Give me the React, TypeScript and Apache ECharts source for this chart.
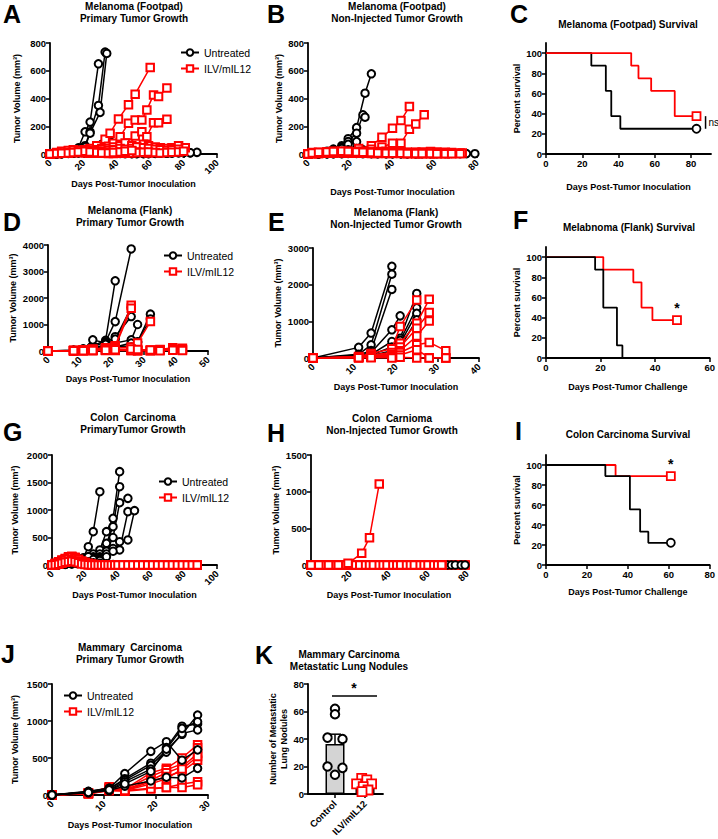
import React, { useEffect, useRef } from "react";
import * as echarts from "echarts";

type Pt = [number, number];

const FONT = "'Liberation Sans', Arial, Helvetica, sans-serif";
const RED = "#ff0000";
const BLACK = "#000000";

// ---------------- Panel A: Melanoma (Footpad) primary ----------------
const A_untreated: Pt[][] = [
  [[0,0],[4,5],[7,8],[11,12],[14,25],[17,45],[21,160],[24,230],[29,650]],
  [[0,0],[4,3],[7,6],[11,10],[14,15],[17,30],[21,60],[24,160],[29,350],[33,735]],
  [[0,0],[4,2],[7,5],[11,8],[14,12],[17,20],[21,50],[24,150],[30,300],[34,725]],
  [[0,0],[4,2],[7,4],[11,6],[14,10],[17,15],[21,20],[24,30],[28,60],[31,70],[36,90]],
  [[0,0],[4,2],[7,5],[11,8],[14,12],[17,20],[21,25],[24,20],[28,15],[31,20],[35,30],[38,25],[42,15]],
  [[0,0],[4,1],[7,3],[11,5],[14,8],[17,10],[21,15],[24,20],[28,25],[31,20],[35,18],[38,15],[42,12],[45,10],[49,10],[52,8]],
  [[0,0],[4,1],[7,2],[11,4],[14,5],[17,8],[21,10],[24,12],[28,15],[31,10],[35,8],[38,6],[42,5],[45,5],[49,4],[52,4],[56,3],[59,3],[63,4],[66,5],[70,5],[73,6],[77,8],[80,10],[84,8],[88,12]],
  [[0,0],[4,2],[7,3],[11,5],[14,8],[17,10],[21,12],[24,10],[28,8],[31,6],[35,5],[38,5],[42,4],[45,3],[49,3],[52,3],[56,4],[59,4],[63,5],[66,6],[70,8],[73,10],[77,12],[80,10],[84,9]],
];
const A_treated: Pt[][] = [
  [[0,0],[4,5],[7,10],[11,15],[14,20],[17,25],[21,30],[24,40],[28,60],[33,106],[36,150],[41,253],[47,355],[51,431],[60,624]],
  [[0,0],[4,3],[7,8],[11,12],[14,15],[17,20],[21,20],[24,25],[28,30],[31,40],[35,55],[38,77],[42,125],[47,222],[51,245],[55,245],[58,318],[62,426],[65,414],[70,475]],
  [[0,0],[4,3],[7,5],[11,8],[14,10],[17,12],[21,15],[24,15],[28,20],[31,25],[35,30],[38,35],[42,50],[47,80],[51,130],[55,160],[58,125],[62,226],[65,226],[70,250]],
  [[0,0],[4,5],[7,10],[11,15],[14,20],[17,25],[21,30],[24,25],[28,30],[31,35],[35,40],[38,50],[42,60],[45,80],[49,60],[52,50],[56,70],[59,60],[63,50],[66,45],[70,40],[73,45],[77,60],[81,45]],
  [[0,0],[4,8],[7,15],[11,20],[14,25],[17,20],[21,20],[24,25],[28,20],[31,20],[35,25],[38,30],[42,40],[45,35],[49,40],[52,50],[56,45],[59,40],[63,35],[66,30],[70,25],[73,30],[77,35]],
  [[0,0],[4,10],[7,20],[11,25],[14,30],[17,25],[21,20],[24,18],[28,15],[31,12],[35,10],[38,10],[42,12],[45,15],[49,20],[52,15],[56,10],[59,8]],
  [[0,0],[4,5],[7,8],[11,10],[14,12],[17,10],[21,8],[24,6],[28,5],[31,5],[35,4],[38,4],[42,5],[45,6],[49,8],[52,10],[56,12],[59,15],[63,10],[66,8],[70,10],[73,12],[77,15],[80,20]],
  [[0,0],[4,4],[7,6],[11,8],[14,10],[17,15],[21,20],[24,15],[28,10],[31,8],[35,8],[38,10],[42,15],[45,20],[49,25]],
];

// ---------------- Panel B: Melanoma (Footpad) non-injected ----------------
const B_untreated: Pt[][] = [
  [[0,0],[9,20],[12,35],[16,60],[19,110],[23,190],[27,438],[30,578]],
  [[0,0],[9,15],[12,30],[16,50],[19,90],[23,150],[26,282],[27,265]],
  [[0,0],[9,10],[12,20],[16,40],[19,70],[23,89]],
  [[0,0],[5,3],[9,8],[12,12],[16,20],[19,30],[23,40],[26,30],[30,20],[33,15]],
  [[0,0],[5,2],[9,3],[12,5],[16,6],[19,8],[23,10],[26,8],[30,6],[33,5],[37,5],[40,4],[44,4],[47,3],[51,3],[54,4],[58,5],[61,6],[65,5],[68,4],[72,3],[75,3],[79,2]],
  [[0,0],[5,1],[9,2],[12,3],[16,4],[19,5],[23,6],[26,5],[30,4],[33,3],[37,3],[40,3],[44,2],[47,2],[51,3],[54,4],[58,3],[61,4],[65,3]],
  [[0,0],[5,2],[9,4],[12,6],[16,8],[19,10],[23,12],[26,10],[30,8],[33,6],[37,5],[40,4],[44,4]],
  [[0,0],[5,1],[9,2],[12,2],[16,3],[19,4],[23,4],[26,3],[30,3],[33,2],[37,2],[40,2],[44,3],[47,3],[51,2],[54,2],[58,2],[61,2]],
];
const B_treated: Pt[][] = [
  [[0,0],[5,5],[9,8],[12,10],[16,15],[19,20],[24,40],[30,60],[35,120],[40,185],[44,241],[48,342]],
  [[0,0],[5,3],[9,5],[12,8],[16,10],[19,15],[24,20],[30,35],[35,50],[40,77],[44,77],[48,178],[51,217],[55,282]],
  [[0,0],[2,10],[5,8],[9,10],[12,12],[16,15],[19,12],[23,10],[26,12],[30,15],[33,18],[37,20],[40,15],[44,12],[47,10],[51,12],[54,15],[58,18],[61,15],[65,12],[68,10],[72,8],[73,8]],
  [[0,0],[2,5],[5,10],[9,15],[12,20],[16,18],[19,15],[23,12],[26,10],[30,8],[33,8],[37,10],[40,12],[44,10],[47,8],[51,6],[54,5],[58,5],[61,4],[65,4],[68,3]],
  [[0,0],[2,3],[5,5],[9,8],[12,10],[16,12],[19,10],[23,8],[26,6],[30,5],[33,5],[37,6],[40,8],[44,10],[47,12],[51,10],[54,8],[58,6],[61,5]],
  [[0,0],[2,2],[5,4],[9,6],[12,8],[16,10],[19,12],[23,15],[26,18],[30,15],[33,12],[37,10],[40,8],[44,6],[47,5],[51,4],[54,4],[58,3],[61,3],[65,3]],
  [[0,0],[2,4],[5,6],[9,8],[12,10],[16,8],[19,6],[23,5],[26,5],[30,4],[33,4],[37,3],[40,3],[44,3],[47,2],[51,2],[54,2],[58,2]],
  [[0,0],[2,8],[5,12],[9,15],[12,18],[16,20],[19,18],[23,15],[26,12],[30,10],[33,8],[37,6],[40,5],[44,5],[47,4],[51,4],[54,3],[58,3],[61,2],[65,2],[68,2],[72,2]],
];

// ---------------- Panel C: Footpad survival ----------------
const C_untreated: Pt[] = [[0,100],[25,87.5],[33,62.5],[36,37.5],[41,25],[83,25]];
const C_treated: Pt[] = [[0,100],[47,87.5],[51,75],[58,62.5],[71,37.5],[83,37.5]];

// ---------------- Panel D: Melanoma (Flank) primary ----------------
const D_untreated: Pt[][] = [
  [[0,0],[8,30],[11,80],[14,200],[18,400],[21,2650]],
  [[0,0],[8,30],[11,60],[14,150],[18,350],[21,1110],[26,3850]],
  [[0,0],[8,20],[11,50],[14,420],[18,300],[21,540],[26,1300]],
  [[0,0],[8,20],[11,50],[14,100],[18,200],[21,300],[26,420],[28,1000]],
  [[0,0],[8,10],[11,40],[14,80],[18,150],[21,200],[26,160],[28,350],[32,1390]],
  [[0,0],[8,10],[11,30],[14,60],[18,100],[21,150],[26,300],[28,330],[32,1210]],
  [[0,0],[8,15],[11,40],[14,100],[18,250],[21,450],[26,1640]],
  [[0,0],[8,10],[11,30],[14,50],[18,120],[21,200],[26,150]],
];
const D_treated: Pt[][] = [
  [[0,0],[8,20],[11,50],[14,80],[18,120],[21,200],[26,1730]],
  [[0,0],[8,20],[11,40],[14,60],[18,100],[21,150],[26,1610]],
  [[0,0],[8,15],[11,30],[14,50],[18,80],[21,100],[26,150],[28,300],[32,1110]],
  [[0,0],[8,10],[11,20],[14,30],[18,40],[21,50],[26,40],[28,30],[32,20],[35,40],[39,60],[42,50]],
  [[0,0],[8,10],[11,15],[14,20],[18,30],[21,40],[26,50],[28,40],[32,30],[35,60],[39,120],[42,100]],
  [[0,0],[8,15],[11,25],[14,30],[18,40],[21,30],[26,20],[28,10],[32,20],[35,50],[39,80],[42,60]],
  [[0,0],[8,5],[11,10],[14,15],[18,20],[21,20],[26,15],[28,10],[32,5],[35,10],[39,30],[42,20]],
  [[0,0],[8,5],[11,10],[14,20],[18,30],[21,50],[26,80],[28,60],[32,40]],
];

// ---------------- Panel E: Melanoma (Flank) non-injected ----------------
const E_untreated: Pt[][] = [
  [[0,0],[11,290],[14,680],[19,2500]],
  [[0,0],[11,100],[14,360],[19,2285]],
  [[0,0],[11,80],[14,200],[19,1870]],
  [[0,0],[11,60],[14,150],[19,770],[21,1150]],
  [[0,0],[11,50],[14,100],[19,450],[21,540],[25,1760]],
  [[0,0],[11,40],[14,80],[19,300],[21,480],[25,1370]],
  [[0,0],[11,30],[14,60],[19,200],[21,400],[25,1220]],
  [[0,0],[11,20],[14,50],[19,100],[21,300],[25,1040]],
];
const E_treated: Pt[][] = [
  [[0,0],[11,40],[14,120],[19,250],[21,860],[25,1580]],
  [[0,0],[11,30],[14,80],[19,150],[21,400],[25,950],[28,1600]],
  [[0,0],[11,20],[14,60],[19,100],[21,300],[25,810],[28,1240]],
  [[0,0],[11,20],[14,50],[19,80],[21,200],[25,600],[28,1010]],
  [[0,0],[11,10],[14,30],[19,50],[21,150],[25,360],[28,425],[32,200]],
  [[0,0],[11,10],[14,20],[19,30],[21,80],[25,225],[28,10],[32,0]],
  [[0,0],[11,5],[14,10],[19,0],[21,20],[25,0],[28,0],[32,0]],
];

// ---------------- Panel F: Flank survival ----------------
const F_untreated: Pt[] = [[0,100],[18,87.5],[21,50],[26,12.5],[28,0]];
const F_treated: Pt[] = [[0,100],[21,87.5],[32,75],[35,50],[39,37.5],[48,37.5]];

// ---------------- Panel G: Colon carcinoma primary ----------------
const G_untreated: Pt[][] = [
  [[0,0],[4,20],[8,40],[12,70],[15,90],[19,130],[22,333],[25,606],[29,1333]],
  [[0,0],[4,10],[8,30],[12,50],[15,80],[19,120],[22,150],[25,200],[29,273],[33,606],[37,848],[41,1697]],
  [[0,0],[4,10],[8,20],[12,40],[15,60],[19,100],[22,120],[25,150],[29,200],[33,394],[37,697],[41,1424]],
  [[0,0],[4,10],[8,20],[12,30],[15,50],[19,80],[22,100],[25,120],[29,150],[33,250],[37,500],[41,1133],[46,1212]],
  [[0,0],[4,5],[8,15],[12,25],[15,40],[19,60],[22,80],[25,100],[29,120],[33,200],[37,300],[41,273],[46,970]],
  [[0,0],[4,5],[8,10],[12,20],[15,30],[19,50],[22,60],[25,80],[29,100],[33,150],[37,250],[41,424],[46,455],[50,988]],
  [[0,0],[4,10],[8,30],[12,60],[15,80],[19,100],[22,150],[25,100],[29,80]],
  [[0,0],[4,5],[8,15],[12,30],[15,40],[19,50],[22,60],[25,40],[29,30],[33,20],[37,10],[41,5],[46,0],[50,0],[54,0],[58,0],[62,0],[66,0],[70,0],[74,0],[77,0],[80,0]],
  [[0,0],[4,8],[8,20],[12,35],[15,45],[19,40],[22,30],[25,20],[29,10],[33,5],[37,0],[41,0],[46,0],[50,0],[54,0],[58,0],[62,0],[66,0],[70,0],[74,0],[77,0]],
];
const G_treatedDays: number[] = [0,2,4,6,8,10,12,14,16,18,20,22,24,26,28,30,32,34,36,38,40,43,46,49,52,55,58,61,64,67,70,73,76,79,82,85,88];
const G_treatedVols: number[][] = [
  [0,20,50,80,120,150,160,130,90,60,40,20,10,5,0,0,0,0,0,0,0,0,0,0,0,0,0,0,0,0,0,0,0,0,0,0,0],
  [0,30,60,90,100,120,140,110,80,50,30,15,5,0,0,0,0,0,0,0,0,0,0,0,0,0,0,0,0,0,0,0,0,0,0,0,0],
  [0,10,30,60,90,110,100,80,60,40,20,10,5,0,0,0,0,0,0,0,0,0,0,0,0,0,0,0,0,0,0,0,0,0,0],
  [0,15,40,70,100,130,150,140,100,70,50,30,20,10,5,0,0,0,0,0,0,0,0,0,0,0,0,0,0,0,0,0,0,0,0,0,0],
  [0,5,20,40,60,80,90,70,50,30,20,10,0,0,0,0,0,0,0,0,0,0,0,0,0,0,0,0,0,0,0,0,0,0],
  [0,10,25,50,70,90,110,120,100,70,40,20,10,0,0,0,0,0,0,0,0,0,0,0,0,0,0,0,0,0,0,0,0,0,0,0],
  [0,20,40,60,80,100,90,70,50,30,20,10,5,0,0,0,0,0,0,0,0,0,0,0,0,0,0,0,0,0,0,0,0,0,0,0,0],
  [0,5,15,30,50,60,70,60,40,20,10,5,0,0,0,0,0,0,0,0,0,0,0,0,0,0,0,0,0,0,0,0,0,0,0,0,0],
];

// ---------------- Panel H: Colon carcinoma non-injected ----------------
const H_days: number[] = [0,2,4,7,9,11,14,16,18,21,23,25,28,30,32,35,37,39,42,44,46,49,51,53,56,58,60,63,65,67];
const H_lateDays: number[] = [70,72,74,77,79];
const H_untreatedVols: number[] = [0,0,0,0,0,0,0,0,0,0,0,0,0,0,0,0,0,0,0,0,0,0,0,0,0,0,0,0,0,0];
const H_untreatedLateVols: number[] = [0,0,0,0,0];
const H_treatedGrowing: Pt[] = [[0,0],[4,0],[9,0],[14,0],[19,23],[26,159],[30,373],[35,1105]];
const H_treatedVols: number[][] = [
  [0,0,0,0,0,0,0,0,0,0,0,0,0,0,0,0,0,0,0,0,0,0,0,0,0,0,0,0,0,0],
  [0,0,0,0,0,0,0,0,0,0,0,0,0,0,0,0,0,0,0,0,0,0,0,0,0,0,0,0,0,0],
  [0,0,0,0,0,0,0,0,0,0,0,0,0,0,0,0,0,0,0,0,0,0,0,0,0,0,0,0,0],
  [0,0,0,0,0,0,0,0,0,0,0,0,0,0,0,0,0,0,0,0,0,0,0,0,0,0,0,0,0,0],
  [0,0,0,0,0,0,0,0,0,0,0,0,0,0,0,0,0,0,0,0,0,0,0,0,0,0,0,0],
  [0,0,0,0,0,0,0,0,0,0,0,0,0,0,0,0,0,0,0,0,0,0,0,0,0,0,0,0,0,0],
  [0,0,0,0,0,0,0,0,0,0,0,0,0,0,0,0,0,0,0,0,0,0,0,0,0,0,0,0,0,0],
];
const H_treatedLateVols: number[][] = [[0,0,0,0,0],[0,0,0,0,0]];

// ---------------- Panel I: Colon survival ----------------
const I_untreated: Pt[] = [[0,100],[29,88.9],[41,55.6],[46,33.3],[50,22.2],[61,22.2]];
const I_treated: Pt[] = [[0,100],[34,88.9],[61,88.9]];

// ---------------- Panel J: Mammary carcinoma primary ----------------
const J_days: number[] = [0,7,11,14,19,22,25,28];
const J_untreatedVols: number[][] = [
  [0,50,90,290,590,720,470,610],
  [0,40,80,220,430,640,930,960],
  [0,45,90,200,400,600,820,1080],
  [0,40,70,180,350,580,830,880],
  [0,30,60,120,190,240,230,360],
  [0,35,70,150,320,620,900,990],
];
const J_treatedVols: number[][] = [
  [0,30,100,80,300,360,500,680],
  [0,25,90,80,250,340,420,640],
  [0,20,110,70,200,300,380,560],
  [0,25,80,60,180,250,320,470],
  [0,20,70,60,90,100,150,180],
  [0,20,60,50,80,100,100,140],
  [0,15,60,60,150,220,350,520],
];

// ---------------- Panel K: Metastatic lung nodules ----------------
const K_categories: string[] = ["Control", "ILV/mIL12"];
const K_means: number[] = [36.3, 6.6];
const K_errTop: number[] = [43.5, 8.6];
const K_control: Pt[] = [[0,62],[0,58],[-0.25,41],[0.25,40],[-0.25,20],[0.25,19],[0,14]];
const K_ilv: Pt[] = [[0.89,11.4],[1.06,10.2],[0.72,7.3],[1.22,7.3],[0.94,5.3],[1.1,2.9],[0.9,1.7]];

// ---------------- helpers ----------------
const zip = (days: number[], vals: number[]): Pt[] =>
  vals.filter((_, i) => i < days.length).map((v, i) => [days[i], v] as Pt);

const LBL = { color: BLACK, fontSize: 9.5, fontWeight: "bold", fontFamily: FONT };
const NAME = { color: BLACK, fontSize: 9, fontWeight: "bold", fontFamily: FONT };

function valAxis(gridIndex: number, o: any) {
  const ticks = o.custom ? { customValues: o.custom } : {};
  return {
    type: "value",
    gridIndex,
    min: o.min,
    max: o.max,
    interval: o.interval,
    name: o.name,
    nameLocation: "middle",
    nameGap: o.gap,
    nameTextStyle: { ...NAME, lineHeight: 11 },
    axisLine: { show: true, onZero: false, lineStyle: { color: BLACK, width: 1.8 } },
    axisTick: { show: true, length: 4, lineStyle: { color: BLACK, width: 1.5 }, ...ticks },
    axisLabel: {
      ...LBL,
      rotate: o.rotate || 0,
      margin: o.margin ?? 4,
      formatter: o.formatter || ((v: number) => String(v)),
      ...ticks,
    },
    splitLine: { show: false },
  };
}

const SURV_TICKS = [0, 20, 40, 60, 80, 100];

const grids = [
  { left: 50, top: 43, width: 167, height: 111 },
  { left: 308, top: 43, width: 169, height: 111 },
  { left: 546, top: 43, width: 165, height: 111 },
  { left: 48, top: 245, width: 160, height: 106 },
  { left: 313, top: 248, width: 166, height: 110 },
  { left: 546, top: 247, width: 165, height: 111 },
  { left: 52, top: 455, width: 165, height: 110 },
  { left: 311, top: 455, width: 156, height: 110 },
  { left: 546, top: 455, width: 165, height: 110 },
  { left: 52, top: 684, width: 156, height: 111 },
  { left: 308, top: 684, width: 75, height: 110 },
];

const INOC = "Days Post-Tumor Inoculation";
const CHAL = "Days Post-Tumor Challenge";
const TV = "Tumor Volume (mm³)";
const RM = 7; // margin for rotated labels

const xAxes = [
  valAxis(0, { min: 0, max: 100, interval: 20, rotate: 45, name: INOC, gap: 21, margin: RM }),
  valAxis(1, { min: 0, max: 80, interval: 20, rotate: 45, name: INOC, gap: 32, margin: RM }),
  valAxis(2, { min: 0, max: 91, custom: [0, 20, 40, 60, 80], name: INOC, gap: 27 }),
  valAxis(3, { min: 0, max: 50, interval: 10, rotate: 45, name: INOC, gap: 22, margin: RM }),
  valAxis(4, { min: 0, max: 40, interval: 10, rotate: 45, name: INOC, gap: 23, margin: RM }),
  valAxis(5, { min: 0, max: 60, interval: 20, name: CHAL, gap: 23 }),
  valAxis(6, { min: 0, max: 100, interval: 20, rotate: 45, name: INOC, gap: 23, margin: RM }),
  valAxis(7, { min: 0, max: 80, interval: 20, rotate: 45, name: INOC, gap: 24, margin: RM }),
  valAxis(8, { min: 0, max: 80, interval: 20, name: CHAL, gap: 21 }),
  valAxis(9, { min: 0, max: 30, interval: 10, rotate: 45, name: INOC, gap: 24, margin: RM }),
  valAxis(10, {
    min: -0.9, max: 1.6, custom: [0, 1], rotate: 45, margin: 8,
    formatter: (v: number) => K_categories[Math.round(v)] || "",
  }),
];

const yAxes = [
  valAxis(0, { min: 0, max: 800, interval: 200, name: TV, gap: 28 }),
  valAxis(1, { min: 0, max: 800, interval: 200, name: TV, gap: 21 }),
  valAxis(2, { min: 0, max: 110, custom: SURV_TICKS, name: "Percent survival", gap: 21 }),
  valAxis(3, { min: 0, max: 4000, interval: 1000, name: TV, gap: 28 }),
  valAxis(4, { min: 0, max: 3000, interval: 1000, name: TV, gap: 29 }),
  valAxis(5, { min: 0, max: 110, custom: SURV_TICKS, name: "Percent survival", gap: 21 }),
  valAxis(6, { min: 0, max: 2000, interval: 500, name: TV, gap: 32 }),
  valAxis(7, { min: 0, max: 1500, interval: 500, name: TV, gap: 26 }),
  valAxis(8, { min: 0, max: 110, custom: SURV_TICKS, name: "Percent survival", gap: 21 }),
  valAxis(9, { min: 0, max: 1500, interval: 500, name: TV, gap: 32 }),
  valAxis(10, { min: 0, max: 80, interval: 20, name: "Number of Metastatic\nLung Nodules", gap: 13 }),
];

function mice(idx: number, data: Pt[][], treated: boolean, z = 2) {
  const c = treated ? RED : BLACK;
  return data.map((d) => ({
    type: "line",
    name: treated ? "ILV/mIL12" : "Untreated",
    xAxisIndex: idx,
    yAxisIndex: idx,
    data: d,
    symbol: treated ? "emptyRect" : "emptyCircle",
    symbolSize: 7.5,
    showSymbol: true,
    showAllSymbol: true,
    z,
    silent: true,
    lineStyle: { color: c, width: 1.5 },
    itemStyle: { color: c, borderColor: c, borderWidth: 1.5 },
    emphasis: { disabled: true },
  }));
}

function survival(idx: number, data: Pt[], treated: boolean, z: number) {
  const c = treated ? RED : BLACK;
  const out: any[] = [
    {
      type: "line",
      xAxisIndex: idx,
      yAxisIndex: idx,
      data,
      step: "end",
      symbol: "none",
      z,
      silent: true,
      lineStyle: { color: c, width: 1.8 },
      emphasis: { disabled: true },
    },
  ];
  const last = data[data.length - 1];
  if (last[1] > 0) {
    out.push({
      type: "scatter",
      xAxisIndex: idx,
      yAxisIndex: idx,
      data: [last],
      symbol: treated ? "rect" : "circle",
      symbolSize: 8,
      z: z + 1,
      silent: true,
      itemStyle: { color: "#ffffff", borderColor: c, borderWidth: 1.8, opacity: 1 },
    });
  }
  return out;
}

function textMarks(idx: number, marks: { x: number; y: number; t: string; size: number; bold?: boolean; dx?: number }[]) {
  return {
    type: "custom",
    xAxisIndex: idx,
    yAxisIndex: idx,
    clip: false,
    silent: true,
    z: 10,
    data: marks.map((m) => [m.x, m.y]),
    renderItem: (params: any, api: any) => {
      const m = marks[params.dataIndex];
      const p = api.coord([m.x, m.y]);
      return {
        type: "text",
        x: p[0] + (m.dx || 0),
        y: p[1],
        style: {
          text: m.t,
          fill: BLACK,
          fontSize: m.size,
          fontWeight: m.bold ? "bold" : "normal",
          fontFamily: FONT,
          align: m.dx ? "left" : "center",
          verticalAlign: "middle",
        },
      };
    },
  };
}

function segs(idx: number, lines: { x1: number; y1: number; x2: number; y2: number }[]) {
  return {
    type: "custom",
    xAxisIndex: idx,
    yAxisIndex: idx,
    clip: false,
    silent: true,
    z: 10,
    data: lines.map((l) => [l.x1, l.y1]),
    renderItem: (params: any, api: any) => {
      const l = lines[params.dataIndex];
      const a = api.coord([l.x1, l.y1]);
      const b = api.coord([l.x2, l.y2]);
      return {
        type: "line",
        shape: { x1: a[0], y1: a[1], x2: b[0], y2: b[1] },
        style: { stroke: BLACK, lineWidth: 1.5 },
      };
    },
  };
}

const legendBase = {
  orient: "vertical",
  itemWidth: 18,
  itemHeight: 8,
  itemGap: 5,
  selectedMode: false,
  textStyle: { fontSize: 10.5, fontFamily: FONT, color: BLACK },
  data: ["Untreated", "ILV/mIL12"],
};

const titles = [
  { t: "Melanoma (Footpad)\nPrimary Tumor Growth", x: 134, y: 0 },
  { t: "Melanoma (Footpad)\nNon-Injected Tumor Growth", x: 397, y: 0 },
  { t: "Melanoma (Footpad) Survival", x: 628, y: 18 },
  { t: "Melanoma (Flank)\nPrimary Tumor Growth", x: 130, y: 204 },
  { t: "Melanoma (Flank)\nNon-Injected Tumor Growth", x: 396, y: 206 },
  { t: "Melabnoma (Flank) Survival", x: 629, y: 221 },
  { t: "Colon  Carcinoma\nPrimaryTumor Growth", x: 133, y: 411 },
  { t: "Colon  Carnioma\nNon-Injected Tumor Growth", x: 392, y: 412 },
  { t: "Colon Carcinoma Survival", x: 628, y: 428 },
  { t: "Mammary  Carcinoma\nPrimary Tumor Growth", x: 130, y: 641 },
  { t: "Mammary Carcinoma\nMetastatic Lung Nodules", x: 349, y: 648 },
];

const letters = [
  { t: "A", x: 3, y: 14 }, { t: "B", x: 267, y: 14 }, { t: "C", x: 510, y: 14 },
  { t: "D", x: 3, y: 222 }, { t: "E", x: 268, y: 222 }, { t: "F", x: 513, y: 220 },
  { t: "G", x: 3, y: 432 }, { t: "H", x: 267, y: 433 }, { t: "I", x: 515, y: 431 },
  { t: "J", x: 1, y: 654 }, { t: "K", x: 255, y: 655 },
];

function buildOption() {
  const series: any[] = [];
  // A
  series.push(...mice(0, A_untreated, false, 2), ...mice(0, A_treated, true, 3));
  // B
  series.push(...mice(1, B_untreated, false, 2), ...mice(1, B_treated, true, 3));
  // C
  series.push(...survival(2, C_untreated, false, 2), ...survival(2, C_treated, true, 4));
  series.push(segs(2, [{ x1: 88, y1: 25, x2: 88, y2: 37.5 }]));
  series.push(textMarks(2, [{ x: 88, y: 31.25, t: "ns", size: 10, dx: 3 }]));
  // D
  series.push(...mice(3, D_untreated, false, 2), ...mice(3, D_treated, true, 3));
  // E
  series.push(...mice(4, E_untreated, false, 2), ...mice(4, E_treated, true, 3));
  // F
  series.push(...survival(5, F_treated, true, 2), ...survival(5, F_untreated, false, 4));
  series.push(textMarks(5, [{ x: 48, y: 50, t: "*", size: 14, bold: true }]));
  // G
  series.push(...mice(6, G_untreated, false, 2));
  series.push(...mice(6, G_treatedVols.map((v) => zip(G_treatedDays, v)), true, 3));
  // H
  series.push(...mice(7, [zip(H_days, H_untreatedVols), zip(H_lateDays, H_untreatedLateVols)], false, 2));
  series.push(...mice(7, H_treatedLateVols.map((v) => zip(H_lateDays, v)), true, 1));
  series.push(...mice(7, H_treatedVols.map((v) => zip(H_days, v)), true, 3));
  series.push(...mice(7, [H_treatedGrowing], true, 3));
  // I
  series.push(...survival(8, I_treated, true, 2), ...survival(8, I_untreated, false, 4));
  series.push(textMarks(8, [{ x: 61, y: 101, t: "*", size: 14, bold: true }]));
  // J
  series.push(...mice(9, J_treatedVols.map((v) => zip(J_days, v)), true, 2));
  series.push(...mice(9, J_untreatedVols.map((v) => zip(J_days, v)), false, 3));
  // K
  series.push({
    type: "bar",
    xAxisIndex: 10,
    yAxisIndex: 10,
    barWidth: 19,
    silent: true,
    data: K_means.map((m, i) => ({
      value: [i, m],
      itemStyle: { color: i === 0 ? "#d4d4d4" : "#f0f0f0", borderColor: BLACK, borderWidth: 1.5 },
    })),
    z: 2,
  });
  series.push({
    type: "custom",
    xAxisIndex: 10,
    yAxisIndex: 10,
    silent: true,
    z: 3,
    data: K_means.map((m, i) => [i, m, K_errTop[i]]),
    renderItem: (_p: any, api: any) => {
      const lo = api.coord([api.value(0), api.value(1)]);
      const hi = api.coord([api.value(0), api.value(2)]);
      return {
        type: "group",
        children: [
          { type: "line", shape: { x1: lo[0], y1: lo[1], x2: hi[0], y2: hi[1] }, style: { stroke: BLACK, lineWidth: 1.5 } },
          { type: "line", shape: { x1: hi[0] - 6, y1: hi[1], x2: hi[0] + 6, y2: hi[1] }, style: { stroke: BLACK, lineWidth: 1.5 } },
        ],
      };
    },
  });
  series.push({
    type: "scatter",
    xAxisIndex: 10,
    yAxisIndex: 10,
    data: K_control,
    symbol: "circle",
    symbolSize: 8.5,
    silent: true,
    z: 4,
    itemStyle: { color: "#ffffff", borderColor: BLACK, borderWidth: 2, opacity: 1 },
  });
  series.push({
    type: "scatter",
    xAxisIndex: 10,
    yAxisIndex: 10,
    data: K_ilv,
    symbol: "rect",
    symbolSize: 9,
    silent: true,
    z: 4,
    itemStyle: { color: "#ffffff", borderColor: RED, borderWidth: 1.8, opacity: 1 },
  });
  series.push(segs(10, [{ x1: -0.1, y1: 71.3, x2: 1.4, y2: 71.3 }]));
  series.push(textMarks(10, [{ x: 0.63, y: 77, t: "*", size: 14, bold: true }]));

  return {
    animation: false,
    backgroundColor: "#ffffff",
    grid: grids,
    xAxis: xAxes,
    yAxis: yAxes,
    legend: [
      { ...legendBase, left: 175, top: 42 },
      { ...legendBase, left: 158, top: 245 },
      { ...legendBase, left: 153, top: 471 },
      { ...legendBase, left: 58, top: 685 },
    ],
    graphic: [
      ...titles.map((t) => ({
        type: "text",
        x: t.x,
        y: t.y,
        silent: true,
        style: {
          text: t.t,
          fill: BLACK,
          fontSize: 10,
          fontWeight: "bold",
          fontFamily: FONT,
          align: "center",
          verticalAlign: "top",
          lineHeight: 12,
        },
      })),
      ...letters.map((l) => ({
        type: "text",
        x: l.x,
        y: l.y,
        silent: true,
        style: {
          text: l.t,
          fill: BLACK,
          fontSize: 25,
          fontWeight: "bold",
          fontFamily: FONT,
          align: "left",
          verticalAlign: "middle",
        },
      })),
    ],
    series,
  };
}

export default function App() {
  const ref = useRef<HTMLDivElement>(null);
  useEffect(() => {
    if (!ref.current) return;
    const chart = echarts.init(ref.current, undefined, { renderer: "svg" });
    chart.setOption(buildOption() as any);
    return () => chart.dispose();
  }, []);
  return (
    <div
      ref={ref}
      style={{ position: "absolute", left: 0, top: 0, width: 718, height: 839, background: "#fff" }}
    />
  );
}
